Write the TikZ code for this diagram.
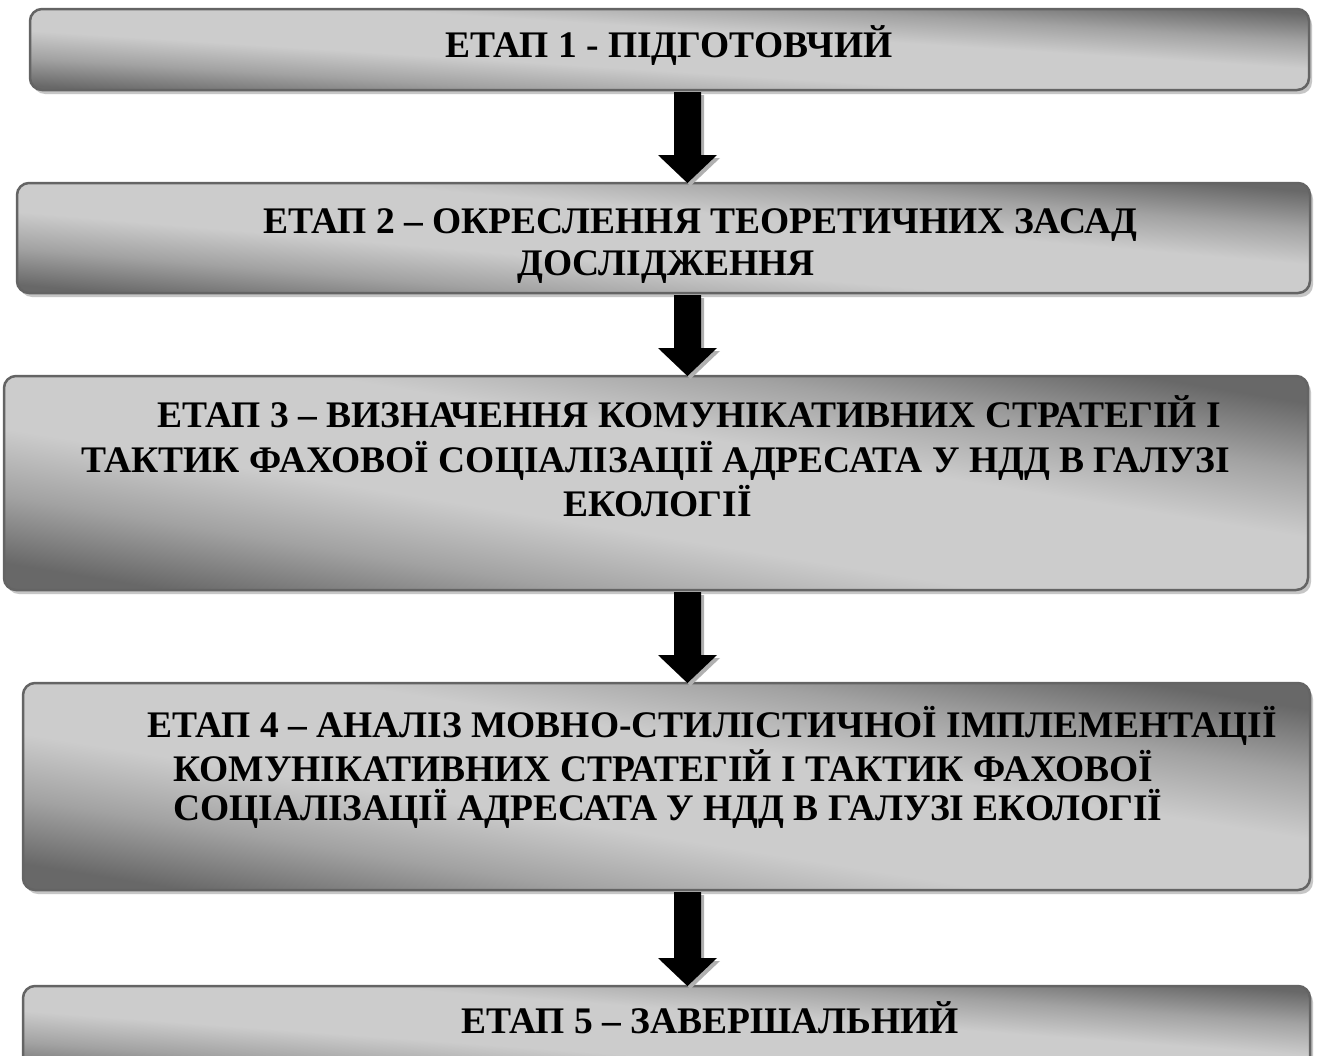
\documentclass[tikz,border=0pt]{standalone}
\usepackage{fontspec}
\setmainfont{Liberation Serif}
\usetikzlibrary{calc,shadows}
\definecolor{shdark}{HTML}{686868}
\definecolor{shmid}{HTML}{A2A2A2}
\definecolor{shlight}{HTML}{CCCCCC}
\definecolor{edgegray}{HTML}{646464}
\definecolor{bshadow}{HTML}{C6C6C6}
\definecolor{ashadow}{HTML}{B0B0B0}
\pgfdeclareverticalshading{stageshade}{100bp}{color(0bp)=(shdark); color(25bp)=(shdark); color(34bp)=(shmid); color(43bp)=(shlight); color(57bp)=(shlight); color(66bp)=(shmid); color(75bp)=(shdark); color(100bp)=(shdark)}
\tikzset{
  stagebox/.style={draw=edgegray, line width=2.5pt, rounded corners=12pt, shade, shading=stageshade,
    inner sep=0pt, outer sep=0pt,
    drop shadow={shadow xshift=3pt, shadow yshift=-4pt, fill=bshadow, opacity=1}},
  stagetext/.style={font=\fontsize{37.5}{44}\selectfont\bfseries, inner sep=0pt, anchor=base west, text=black},
  arrbody/.style={fill=black},
  arrshade/.style={fill=ashadow}
}
\newcommand\blockarrow[2]{%
  \fill[arrshade] let \p1=(ax|-#1.south), \p2=(ax|-#2.north) in
    (\x1-10.5pt,\y1-5pt) -- (\x1+16.5pt,\y1-5pt) -- (\x1+16.5pt,\y2+25pt) -- (\x1+32.5pt,\y2+25pt) --
    (\x1+3pt,\y2-3pt) -- (\x1-26.5pt,\y2+25pt) -- (\x1-10.5pt,\y2+25pt) -- cycle;
  \fill[arrbody] let \p1=(ax|-#1.south), \p2=(ax|-#2.north) in
    (\x1-13.5pt,\y1-2pt) -- (\x1+13.5pt,\y1-2pt) -- (\x1+13.5pt,\y2+28pt) -- (\x1+29.5pt,\y2+28pt) --
    (\x1,\y2) -- (\x1-29.5pt,\y2+28pt) -- (\x1-13.5pt,\y2+28pt) -- cycle;
}
\begin{document}
\begin{tikzpicture}[x=1pt, y=-1pt]
\useasboundingbox[fill=white] (0,0) rectangle (1325,1055);
\coordinate (ax) at (687.5,0);

\node[stagebox, shading angle=-3.62, minimum width=1279pt, minimum height=81pt] (b1) at (669.5,49.5) {};
\node[stagebox, shading angle=-4.86, minimum width=1293pt, minimum height=110pt] (b2) at (663.5,238) {};
\node[stagebox, shading angle=-9.32, minimum width=1304pt, minimum height=214pt] (b3) at (656,483) {};
\node[stagebox, shading angle=-9.14, minimum width=1287pt, minimum height=207pt] (b4) at (666.5,786.5) {};
\node[stagebox, shading angle=-4.18, minimum width=1287pt, minimum height=94pt] (b5) at (666.5,1033) {};

\blockarrow{b1}{b2}
\blockarrow{b2}{b3}
\blockarrow{b3}{b4}
\blockarrow{b4}{b5}

\node[stagetext] (t1) at (445,57) {ЕТАП 1 - ПІДГОТОВЧИЙ};
\node[stagetext] (t2a) at (263,233) {ЕТАП 2 – ОКРЕСЛЕННЯ ТЕОРЕТИЧНИХ ЗАСАД};
\node[stagetext] (t2b) at (517,275) {ДОСЛІДЖЕННЯ};
\node[stagetext] (t3a) at (157,427) {ЕТАП 3 – ВИЗНАЧЕННЯ КОМУНІКАТИВНИХ СТРАТЕГІЙ І};
\node[stagetext] (t3b) at (81,472) {ТАКТИК ФАХОВОЇ СОЦІАЛІЗАЦІЇ АДРЕСАТА У НДД В ГАЛУЗІ};
\node[stagetext] (t3c) at (563,516) {ЕКОЛОГІЇ};
\node[stagetext] (t4a) at (147,737) {ЕТАП 4 – АНАЛІЗ МОВНО-СТИЛІСТИЧНОЇ ІМПЛЕМЕНТАЦІЇ};
\node[stagetext] (t4b) at (173,781) {КОМУНІКАТИВНИХ СТРАТЕГІЙ І ТАКТИК ФАХОВОЇ};
\node[stagetext] (t4c) at (173,820) {СОЦІАЛІЗАЦІЇ АДРЕСАТА У НДД В ГАЛУЗІ ЕКОЛОГІЇ};
\node[stagetext] (t5) at (461,1033) {ЕТАП 5 – ЗАВЕРШАЛЬНИЙ};
\end{tikzpicture}
\end{document}
